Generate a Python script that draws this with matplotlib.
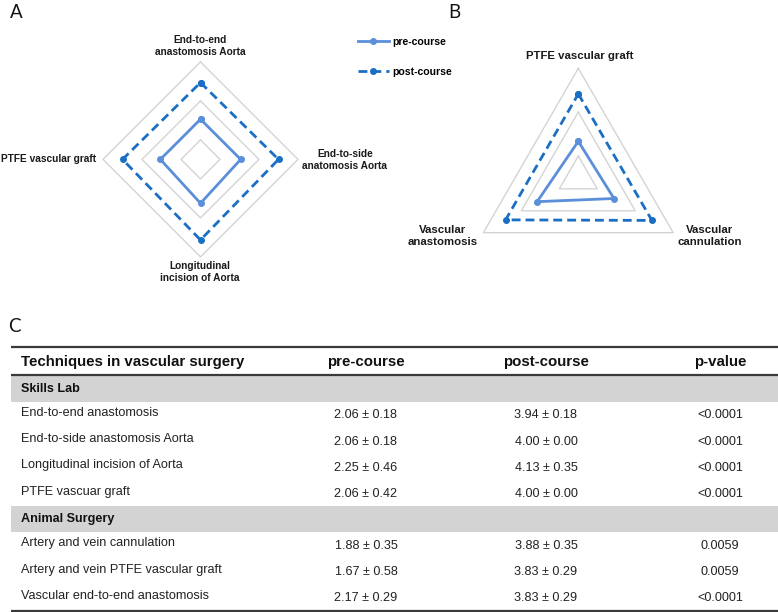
import numpy as np
import matplotlib
matplotlib.use("Agg")
import matplotlib.pyplot as plt
from matplotlib.lines import Line2D

plt.rcParams['font.family'] = ['Liberation Sans', 'DejaVu Sans']

# ---------------- data ----------------
a_labels = ["End-to-end\nanastomosis Aorta", "End-to-side\nanatomosis Aorta",
            "Longitudinal\nincision of Aorta", "PTFE vascular graft"]
a_pre = [2.06, 2.06, 2.25, 2.06]
a_post = [3.94, 4.00, 4.13, 4.00]

b_labels = ["PTFE vascular graft", "Vascular\ncannulation", "Vascular\nanastomosis"]
b_pre = [1.67, 1.88, 2.17]
b_post = [3.83, 3.88, 3.83]

grid_levels = [1, 3, 5]
series_names = ["pre-course", "post-course"]

table_header = ["Techniques in vascular surgery", "pre-course", "post-course", "p-value"]
group_names = ["Skills Lab", "Animal Surgery"]
skills_rows = ["End-to-end anastomosis", "End-to-side anastomosis Aorta",
               "Longitudinal incision of Aorta", "PTFE vascuar graft"]
skills_pre = ["2.06 ± 0.18", "2.06 ± 0.18", "2.25 ± 0.46", "2.06 ± 0.42"]
skills_post = ["3.94 ± 0.18", "4.00 ± 0.00", "4.13 ± 0.35", "4.00 ± 0.00"]
skills_p = ["<0.0001", "<0.0001", "<0.0001", "<0.0001"]
animal_rows = ["Artery and vein cannulation", "Artery and vein PTFE vascular graft",
               "Vascular end-to-end anastomosis"]
animal_pre = ["1.88 ± 0.35", "1.67 ± 0.58", "2.17 ± 0.29"]
animal_post = ["3.88 ± 0.35", "3.83 ± 0.29", "3.83 ± 0.29"]
animal_p = ["0.0059", "0.0059", "<0.0001"]

# ---------------- style ----------------
W, H = 778, 612
PRE_C = "#5b8fd9"
POST_C = "#1a6fc4"
GRID_C = "#d4d4d4"

fig = plt.figure(figsize=(W / 100, H / 100), dpi=100)


def fx(x):
    return x / W


def fy(y):
    return 1 - y / H


def radar(cx, cy, rad, labels, pre, post):
    ax = fig.add_axes([fx(cx - rad), fy(cy + rad), 2 * rad / W, 2 * rad / H],
                      projection='polar')
    ax.set_theta_zero_location('N')
    ax.set_theta_direction(-1)
    n = len(labels)
    ang = np.linspace(0, 2 * np.pi, n, endpoint=False)
    angc = np.concatenate([ang, ang[:1]])
    for lv in grid_levels:
        ax.plot(angc, [lv] * (n + 1), color=GRID_C, lw=1.0, zorder=1, clip_on=False)
    ax.plot(angc, list(pre) + [pre[0]], color=PRE_C, lw=2.0, marker='o',
            markersize=4, zorder=3, clip_on=False)
    ax.plot(angc, list(post) + [post[0]], color=POST_C, lw=2.0, marker='o',
            markersize=4, linestyle=(0, (3.2, 1.8)), zorder=3, clip_on=False)
    ax.set_ylim(0, 5)
    ax.grid(False)
    ax.set_xticks([])
    ax.set_yticks([])
    ax.spines['polar'].set_visible(False)
    ax.patch.set_alpha(0)
    return ax


axA = radar(200.5, 159.4, 97.5, a_labels, a_pre, a_post)
axB = radar(578.3, 177.9, 109.6, b_labels, b_pre, b_post)

labA = dict(fontsize=7.3, fontweight='bold', color='#1a1a1a', linespacing=1.15)
labB = dict(fontsize=8.2, fontweight='bold', color='#1a1a1a', linespacing=1.15)
fig.text(fx(200), fy(46), a_labels[0], ha='center', va='center', **labA)
fig.text(fx(345), fy(160), a_labels[1], ha='center', va='center', **labA)
fig.text(fx(200), fy(272), a_labels[2], ha='center', va='center', **labA)
fig.text(fx(96), fy(159), a_labels[3], ha='right', va='center', **labA)

fig.text(fx(580), fy(56), b_labels[0], ha='center', va='center', **labB)
fig.text(fx(710), fy(236), b_labels[1], ha='center', va='center', **labB)
fig.text(fx(443), fy(236), b_labels[2], ha='center', va='center', **labB)

# legend
handles = [Line2D([], [], color=PRE_C, lw=2.0, marker='o', markersize=4),
           Line2D([], [], color=POST_C, lw=2.0, marker='o', markersize=4,
                  linestyle=(0, (3.2, 1.8)))]
leg = fig.legend(handles, series_names, loc='upper left',
                 bbox_to_anchor=(fx(358), fy(37)), frameon=False,
                 handlelength=2.9, handletextpad=0.35, labelspacing=1.85,
                 prop=dict(family='Liberation Sans', weight='bold', size=7.6),
                 borderpad=0, borderaxespad=0)

# panel letters
let_kw = dict(fontsize=13.5, family='Lato', color='#111111', va='center')
fig.text(fx(10), fy(13), "A", ha='left', **let_kw)
fig.text(fx(448), fy(13), "B", ha='left', **let_kw)
fig.text(fx(8), fy(327), "C", ha='left', **let_kw)

# ---------------- table ----------------
axT = fig.add_axes([0, 0, 1, 1], zorder=-1)
axT.set_xlim(0, W)
axT.set_ylim(H, 0)
axT.axis('off')

x0, x1 = 11, 778
col_x = [21, 366, 546, 720]
LINE_C = '#3a3a3a'

axT.hlines(347, x0, x1, color=LINE_C, lw=1.6)
axT.hlines(375, x0, x1, color=LINE_C, lw=1.6)
axT.hlines(610.5, x0, x1, color=LINE_C, lw=1.6)

for i, h in enumerate(table_header):
    axT.text(col_x[i], 362, h, ha='left' if i == 0 else 'center', va='center',
             fontsize=10.8, fontweight='bold', color='#111111')

groups = [(group_names[0], skills_rows, skills_pre, skills_post, skills_p),
          (group_names[1], animal_rows, animal_pre, animal_post, animal_p)]
row_h = 26.2
y = 375.5
for gname, names, pre, post, pv in groups:
    axT.fill_between([x0, x1], y, y + 26, color='#d3d3d3', lw=0)
    axT.text(col_x[0], y + 13, gname, ha='left', va='center', fontsize=9.1,
             fontweight='bold', color='#111111')
    y += 26
    for j in range(len(names)):
        yc = y + 13
        axT.text(col_x[0], yc - 1.5, names[j], ha='left', va='center',
                 fontsize=9.1, color='#222222')
        axT.text(col_x[1], yc + 1, pre[j], ha='center', va='center',
                 fontsize=9.1, color='#222222')
        axT.text(col_x[2], yc + 1, post[j], ha='center', va='center',
                 fontsize=9.1, color='#222222')
        axT.text(col_x[3], yc + 1, pv[j], ha='center', va='center',
                 fontsize=9.1, color='#222222')
        y += row_h
    y -= 0.5

fig.savefig("out.png", dpi=100)
